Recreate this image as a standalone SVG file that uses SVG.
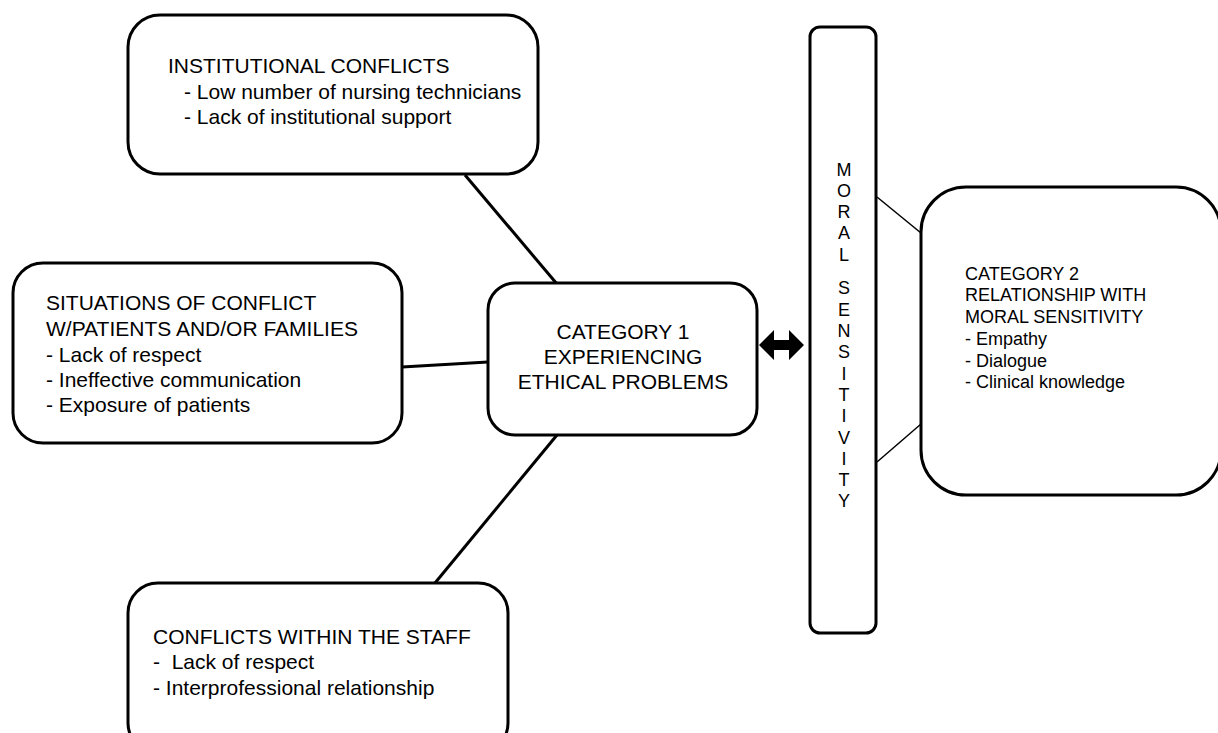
<svg xmlns="http://www.w3.org/2000/svg" width="1218" height="733" viewBox="0 0 1218 733">
<style>
.box{fill:#fff;stroke:#000;stroke-width:3}
.t{font-family:"Liberation Sans",Arial,sans-serif;font-size:21px;fill:#000}
.s{font-family:"Liberation Sans",Arial,sans-serif;font-size:18px;fill:#000}
.c{text-anchor:middle}
.ln{stroke:#000;stroke-width:3;fill:none}
.thin{stroke:#000;stroke-width:1.5;fill:none}
</style>
<rect width="1218" height="733" fill="#fff"/>
<g id="connectors">
<line class="ln" x1="465" y1="175" x2="557" y2="284"/>
<line class="ln" x1="402" y1="367" x2="488" y2="362"/>
<line class="ln" x1="557" y1="435" x2="435" y2="583"/>
<line class="thin" x1="877" y1="197" x2="921" y2="233"/>
<line class="thin" x1="877" y1="462" x2="921" y2="424"/>
<polygon points="759,345 774,330 774,340 789,340 789,330 804,345 789,360 789,350 774,350 774,360" fill="#000"/>
</g>
<g id="institutional">
<rect class="box" x="128" y="15" width="410" height="159" rx="32"/>
<text class="t" x="168" y="73">INSTITUTIONAL CONFLICTS</text>
<text class="t" x="184" y="99">- Low number of nursing technicians</text>
<text class="t" x="184" y="124">- Lack of institutional support</text>
</g>
<g id="situations">
<rect class="box" x="13" y="263" width="389" height="180" rx="30"/>
<text class="t" x="46" y="310">SITUATIONS OF CONFLICT</text>
<text class="t" x="46" y="336">W/PATIENTS AND/OR FAMILIES</text>
<text class="t" x="46" y="362">- Lack of respect</text>
<text class="t" x="46" y="387">- Ineffective communication</text>
<text class="t" x="46" y="412">- Exposure of patients</text>
</g>
<g id="category1">
<rect class="box" x="488" y="283" width="269" height="152" rx="27"/>
<text class="t c" x="623" y="339">CATEGORY 1</text>
<text class="t c" x="623" y="364">EXPERIENCING</text>
<text class="t c" x="623" y="389">ETHICAL PROBLEMS</text>
</g>
<g id="staff">
<rect class="box" x="128" y="583" width="380" height="170" rx="30"/>
<text class="t" x="153" y="644">CONFLICTS WITHIN THE STAFF</text>
<text class="t" x="153" y="669" xml:space="preserve">-  Lack of respect</text>
<text class="t" x="153" y="695">- Interprofessional relationship</text>
</g>
<g id="moral">
<rect class="box" x="810" y="27" width="66" height="606" rx="10"/>
<g class="s c">
<text x="844" y="176">M</text>
<text x="844" y="197">O</text>
<text x="844" y="218">R</text>
<text x="844" y="239">A</text>
<text x="844" y="261">L</text>
<text x="844" y="294">S</text>
<text x="844" y="316">E</text>
<text x="844" y="337">N</text>
<text x="844" y="358">S</text>
<text x="844" y="380">I</text>
<text x="844" y="401">T</text>
<text x="844" y="422">I</text>
<text x="844" y="444">V</text>
<text x="844" y="465">I</text>
<text x="844" y="486">T</text>
<text x="844" y="507">Y</text>
</g>
</g>
<g id="category2">
<rect class="box" x="921" y="187" width="300" height="308" rx="45"/>
<text class="s" x="965" y="280">CATEGORY 2</text>
<text class="s" x="965" y="301">RELATIONSHIP WITH</text>
<text class="s" x="965" y="323">MORAL SENSITIVITY</text>
<text class="s" x="965" y="345">- Empathy</text>
<text class="s" x="965" y="367">- Dialogue</text>
<text class="s" x="965" y="388">- Clinical knowledge</text>
</g>
</svg>
